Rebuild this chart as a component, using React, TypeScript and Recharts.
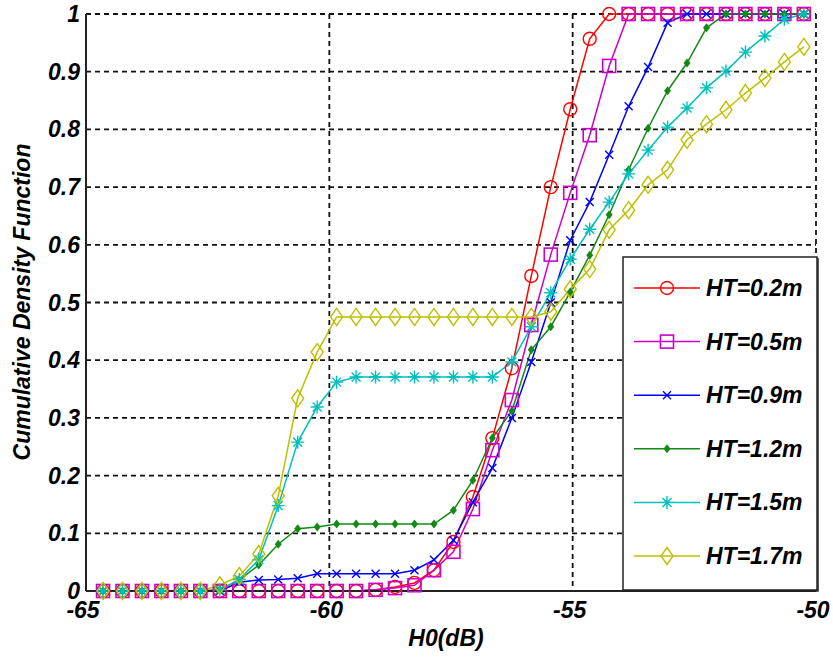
import { LineChart, Line, XAxis, YAxis, CartesianGrid, Legend, Label } from "recharts";

// H0 bin positions (dB)
const h0Bins = [
  -64.65, -64.25, -63.85, -63.45, -63.05, -62.65, -62.25, -61.85, -61.45, -61.05,
  -60.65, -60.25, -59.85, -59.45, -59.05, -58.65, -58.25, -57.85, -57.45, -57.05,
  -56.65, -56.25, -55.85, -55.45, -55.05, -54.65, -54.25, -53.85, -53.45, -53.05,
  -52.65, -52.25, -51.85, -51.45, -51.05, -50.65, -50.25,
];

const cdfHt02 = [
  0, 0, 0, 0, 0, 0, 0, 0, 0, 0, 0, 0, 0, 0, 0.002, 0.007, 0.014, 0.036, 0.085, 0.163,
  0.265, 0.386, 0.546, 0.7, 0.835, 0.957, 1, 1, 1, 1, 1, 1, 1, 1, 1, 1, 1,
];
const cdfHt05 = [
  0, 0, 0, 0, 0, 0, 0, 0, 0, 0, 0, 0, 0, 0, 0.002, 0.005, 0.01, 0.036, 0.068, 0.142,
  0.244, 0.331, 0.461, 0.583, 0.69, 0.79, 0.91, 1, 1, 1, 1, 1, 1, 1, 1, 1, 1,
];
const cdfHt09 = [
  0, 0, 0, 0, 0, 0, 0, 0.015, 0.019, 0.02, 0.022, 0.03, 0.03, 0.03, 0.03, 0.03, 0.036,
  0.054, 0.088, 0.154, 0.213, 0.3, 0.397, 0.5, 0.608, 0.674, 0.756, 0.84, 0.908, 0.985,
  1, 1, 1, 1, 1, 1, 1,
];
const cdfHt12 = [
  0, 0, 0, 0, 0, 0, 0.002, 0.019, 0.045, 0.081, 0.108, 0.111, 0.116, 0.116, 0.116, 0.116,
  0.116, 0.116, 0.14, 0.192, 0.265, 0.312, 0.418, 0.458, 0.518, 0.582, 0.652, 0.73, 0.802,
  0.867, 0.915, 0.976, 1, 1, 1, 1, 1,
];
const cdfHt15 = [
  0, 0, 0, 0, 0, 0, 0.002, 0.02, 0.054, 0.148, 0.258, 0.319, 0.362, 0.371, 0.371, 0.371,
  0.371, 0.371, 0.371, 0.371, 0.371, 0.397, 0.458, 0.517, 0.575, 0.627, 0.674, 0.723, 0.764,
  0.804, 0.837, 0.872, 0.901, 0.934, 0.962, 0.991, 1,
];
const cdfHt17 = [
  0, 0, 0, 0, 0, 0, 0.01, 0.026, 0.064, 0.165, 0.334, 0.414, 0.475, 0.475, 0.475, 0.475,
  0.475, 0.475, 0.475, 0.475, 0.475, 0.475, 0.475, 0.484, 0.523, 0.558, 0.626, 0.66, 0.704,
  0.73, 0.782, 0.809, 0.834, 0.863, 0.889, 0.917, 0.943,
];

const xTicks = [-65, -60, -55, -50];
const yTicks = [0, 0.1, 0.2, 0.3, 0.4, 0.5, 0.6, 0.7, 0.8, 0.9, 1];

type MarkerKind = "circle" | "square" | "x" | "dot" | "star" | "diamond";

const series: { key: string; name: string; color: string; marker: MarkerKind; values: number[] }[] = [
  { key: "ht02", name: "HT=0.2m", color: "#ff0000", marker: "circle", values: cdfHt02 },
  { key: "ht05", name: "HT=0.5m", color: "#cc00cc", marker: "square", values: cdfHt05 },
  { key: "ht09", name: "HT=0.9m", color: "#0000ff", marker: "x", values: cdfHt09 },
  { key: "ht12", name: "HT=1.2m", color: "#138a13", marker: "dot", values: cdfHt12 },
  { key: "ht15", name: "HT=1.5m", color: "#00bfbf", marker: "star", values: cdfHt15 },
  { key: "ht17", name: "HT=1.7m", color: "#bfbf00", marker: "diamond", values: cdfHt17 },
];

const rows = h0Bins.map((x, i) => {
  const row: Record<string, number> = { x };
  series.forEach((s) => (row[s.key] = s.values[i]));
  return row;
});

const FONT = '"Liberation Sans", Arial, sans-serif';

function Marker({ kind, cx, cy, color }: { kind: MarkerKind; cx: number; cy: number; color: string }) {
  switch (kind) {
    case "circle":
      return <circle cx={cx} cy={cy} r={6.5} fill="none" stroke={color} strokeWidth={1.4} />;
    case "square":
      return <rect x={cx - 6.5} y={cy - 6.5} width={13} height={13} fill="none" stroke={color} strokeWidth={1.6} />;
    case "x":
      return (
        <path
          d={`M${cx - 4},${cy - 4}L${cx + 4},${cy + 4}M${cx - 4},${cy + 4}L${cx + 4},${cy - 4}`}
          stroke={color}
          strokeWidth={1.4}
        />
      );
    case "dot":
      return <path d={`M${cx},${cy - 4.5}L${cx + 3.5},${cy}L${cx},${cy + 4.5}L${cx - 3.5},${cy}Z`} fill={color} />;
    case "star":
      return (
        <path
          d={`M${cx - 6.5},${cy}L${cx + 6.5},${cy}M${cx},${cy - 6.5}L${cx},${cy + 6.5}M${cx - 4.5},${cy - 4.5}L${cx + 4.5},${cy + 4.5}M${cx - 4.5},${cy + 4.5}L${cx + 4.5},${cy - 4.5}`}
          stroke={color}
          strokeWidth={1.4}
        />
      );
    case "diamond":
      return (
        <path
          d={`M${cx},${cy - 8.5}L${cx + 6},${cy}L${cx},${cy + 8.5}L${cx - 6},${cy}Z`}
          fill="none"
          stroke={color}
          strokeWidth={1.4}
        />
      );
  }
}

const XTick = ({ x, y, payload }: any) => (
  <text x={x - 3} y={y + 27} textAnchor="middle" fontFamily={FONT} fontSize={23} fontWeight="bold" fontStyle="italic" fill="#000">
    {payload.value}
  </text>
);

const YTick = ({ x, y, payload }: any) => (
  <text x={x - 6} y={y + 8} textAnchor="end" fontFamily={FONT} fontSize={23} fontWeight="bold" fontStyle="italic" fill="#000">
    {payload.value}
  </text>
);

const LegendBox = () => (
  <svg width={197} height={336} style={{ display: "block" }}>
    <rect x={1} y={1} width={194} height={333} fill="#fff" stroke="#222" strokeWidth={1.5} />
    <path d="M196,2L196,335L2,335" fill="none" stroke="#222" strokeWidth={1.5} />
    {series.map((s, i) => {
      const cy = 32 + i * 53.6;
      return (
        <g key={s.key}>
          <line x1={12} x2={78} y1={cy} y2={cy} stroke={s.color} strokeWidth={1.5} />
          <Marker kind={s.marker} cx={45} cy={cy} color={s.color} />
          <text x={84} y={cy + 8} fontFamily={FONT} fontSize={23} fontWeight="bold" fontStyle="italic" fill="#000">
            {s.name}
          </text>
        </g>
      );
    })}
  </svg>
);

export default function App() {
  return (
    <div style={{ position: "absolute", left: 0, top: 0, width: 833, height: 659, background: "#fff" }}>
      <LineChart width={833} height={659} data={rows} margin={{ top: 14, right: 17, bottom: 0, left: 0 }}>
        <CartesianGrid stroke="#111" strokeWidth={1.8} strokeDasharray="5 4" />
        <XAxis
          dataKey="x"
          type="number"
          domain={[-65, -50]}
          ticks={xTicks}
          height={68}
          tickSize={0}
          tickMargin={0}
          tick={<XTick />}
          stroke="#222"
          strokeWidth={2}
          interval={0}
        >
          <Label
            content={() => (
              <text x={446} y={646} textAnchor="middle" fontFamily={FONT} fontSize={23} fontWeight="bold" fontStyle="italic" fill="#000">
                H0(dB)
              </text>
            )}
          />
        </XAxis>
        <YAxis
          type="number"
          domain={[0, 1]}
          ticks={yTicks}
          width={86}
          tickSize={0}
          tickMargin={0}
          tick={<YTick />}
          stroke="#222"
          strokeWidth={2}
          interval={0}
        >
          <Label
            content={() => (
              <text
                x={30}
                y={302}
                transform="rotate(-90 30 302)"
                textAnchor="middle"
                fontFamily={FONT}
                fontSize={23}
                fontWeight="bold"
                fontStyle="italic"
                fill="#000"
              >
                Cumulative Density Function
              </text>
            )}
          />
        </YAxis>
        {series.map((s) => (
          <Line
            key={s.key}
            dataKey={s.key}
            name={s.name}
            type="linear"
            stroke={s.color}
            strokeWidth={1.5}
            isAnimationActive={false}
            dot={(p: any) => <Marker key={`${s.key}-${p.index}`} kind={s.marker} cx={p.cx} cy={p.cy} color={s.color} />}
            activeDot={false}
          />
        ))}
        <Legend
          layout="vertical"
          align="center"
          verticalAlign="middle"
          content={() => <LegendBox />}
          wrapperStyle={{ left: 622, top: 256, width: 197, height: 336 }}
        />
      </LineChart>
    </div>
  );
}
